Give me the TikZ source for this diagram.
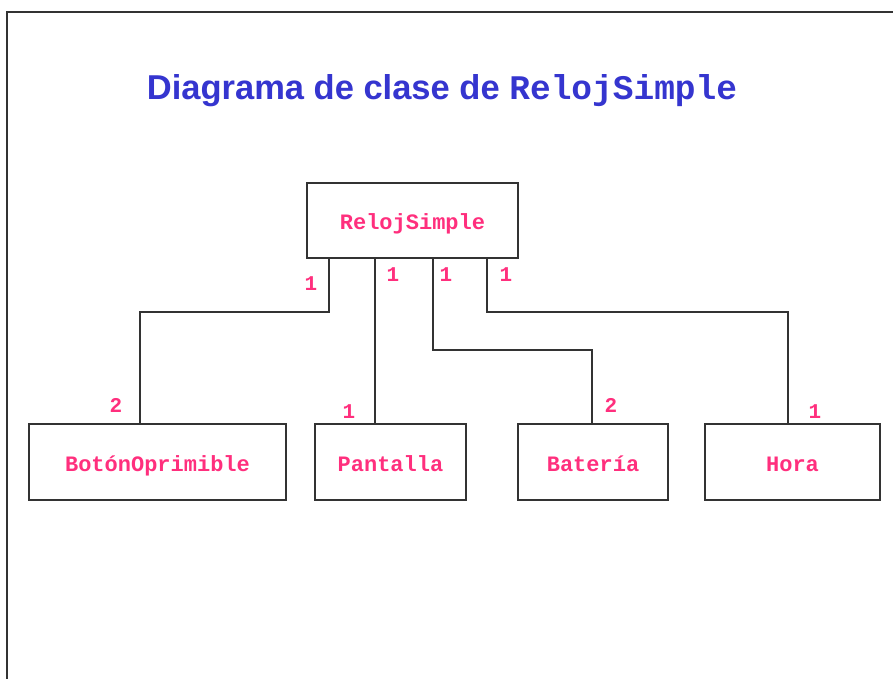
\documentclass[tikz,border=0pt]{standalone}
\usepackage{fontspec}
\setmainfont{Liberation Sans}
\setmonofont{Liberation Mono}
\usepackage{tikz}
\usepackage{xcolor}
\usetikzlibrary{calc}
\definecolor{titlecolor}{HTML}{3535CF}
\definecolor{classcolor}{HTML}{FF2F7D}
\definecolor{linecolor}{HTML}{333333}
\tikzstyle{classbox} = [
    draw=linecolor,
    line width=1.5pt,
    rectangle,
    text=classcolor,
    font=\fontsize{22}{24}\selectfont\ttfamily\bfseries,
    text height=18pt,
    text depth=0pt,
    inner sep=0pt
    ]
\tikzstyle{mult} = [
    text=classcolor,
    font=\fontsize{21}{22}\selectfont\ttfamily\bfseries,
    inner sep=0pt
    ]
\tikzstyle{umlline} = [
    draw=linecolor,
    line width=1.6pt
    ]

\begin{document}
\begin{tikzpicture}[x=1pt,y=-1pt]
\useasboundingbox (0,0) rectangle (893,679);
% frame
\draw[linecolor, line width=1.5pt] (7,679) -- (7,12) -- (893,12);
\node[text=titlecolor, anchor=base] (title) at (442,100)
    {\fontsize{34.5}{38}\selectfont\bfseries Diagrama de clase de {\ttfamily\fontsize{34.5}{38}\selectfont RelojSimple}};

% classes
\node[classbox, minimum width=211pt, minimum height=75pt] (reloj) at (412.5,220.5) {RelojSimple};
\node[classbox, minimum width=257pt, minimum height=76pt] (boton) at (157.5,462) {BotónOprimible};
\node[classbox, minimum width=151pt, minimum height=76pt] (pantalla) at (390.5,462) {Pantalla};
\node[classbox, minimum width=150pt, minimum height=76pt] (bateria) at (593,462) {Batería};
\node[classbox, minimum width=175pt, minimum height=76pt] (hora) at (792.5,462) {Hora};

% associations
\draw[umlline] ([xshift=23pt]reloj.south west) -- ++(0,53) -| ([xshift=112pt]boton.north west);
\draw[umlline] ([xshift=69pt]reloj.south west) -- ([xshift=61pt]pantalla.north west);
\draw[umlline] ([xshift=127pt]reloj.south west) -- ++(0,91) -| ([xshift=75pt]bateria.north west);
\draw[umlline] ([xshift=181pt]reloj.south west) -- ++(0,53) -| ([xshift=84pt]hora.north west);

% multiplicities
\node[mult] (mboton1) at (311,284) {1};
\node[mult] (mboton2) at (116,405) {2};
\node[mult] (mpant1) at (393,275) {1};
\node[mult] (mpant2) at (349,412) {1};
\node[mult] (mbat1) at (446,275) {1};
\node[mult] (mbat2) at (611,405) {2};
\node[mult] (mhora1) at (506,275) {1};
\node[mult] (mhora2) at (815,412) {1};
\end{tikzpicture}
\end{document}
